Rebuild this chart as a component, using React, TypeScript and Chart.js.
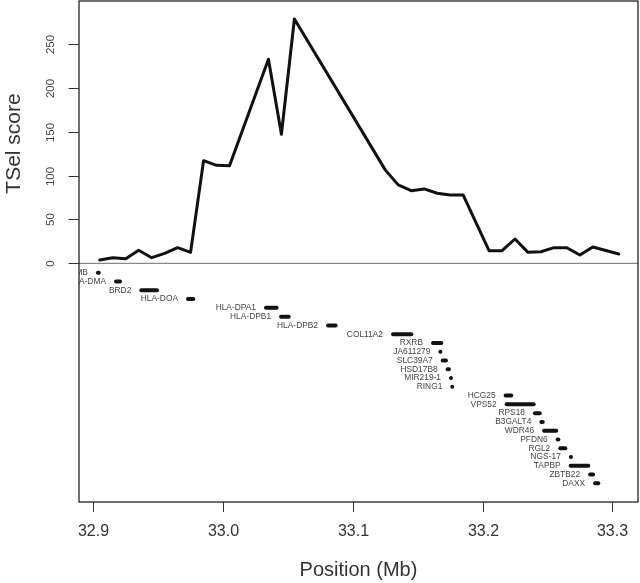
import React, { useEffect, useRef } from "react";
import { Chart, registerables } from "chart.js";

Chart.register(...registerables);

// TSel score profile (position in Mb, score)
const scorePos = [
  32.905, 32.915, 32.925, 32.935, 32.945, 32.955, 32.965, 32.975, 32.985, 32.995,
  33.005, 33.035, 33.045, 33.055, 33.125, 33.135, 33.145, 33.155, 33.165, 33.175,
  33.185, 33.205, 33.215, 33.225, 33.235, 33.245, 33.255, 33.265, 33.275, 33.285,
  33.305,
];
const scoreVal = [
  3.8, 6.4, 5.2, 14.8, 6.4, 11.4, 17.8, 12.5, 117.0, 111.7,
  111.3, 232.6, 147.1, 278.5, 106.5, 89.4, 82.8, 84.8, 79.9, 77.9,
  77.9, 14.4, 14.4, 27.7, 12.5, 13.2, 17.8, 17.8, 9.5, 18.6,
  10.6,
];

// Genes (start / end in Mb)
const geneNames = [
  "HLA-DMB", "HLA-DMA", "BRD2", "HLA-DOA", "HLA-DPA1", "HLA-DPB1", "HLA-DPB2",
  "COL11A2", "RXRB", "JA611279", "SLC39A7", "HSD17B8", "MIR219-1", "RING1",
  "HCG25", "VPS52", "RPS18", "B3GALT4", "WDR46", "PFDN6", "RGL2", "NGS-17",
  "TAPBP", "ZBTB22", "DAXX",
];
const geneStart = [
  32.9036, 32.9175, 32.9370, 32.9730, 33.0331, 33.0447, 33.0809,
  33.1310, 33.1618, 33.1675, 33.1693, 33.1731, 33.1757, 33.1767,
  33.2178, 33.2186, 33.2404, 33.2453, 33.2474, 33.2579, 33.2599, 33.2680,
  33.2679, 33.2829, 33.2867,
];
const geneEnd = [
  32.9042, 32.9206, 32.9491, 32.9771, 33.0413, 33.0506, 33.0868,
  33.1451, 33.1682, 33.1678, 33.1718, 33.1741, 33.1759, 33.1770,
  33.2222, 33.2394, 33.2441, 33.2464, 33.2568, 33.2584, 33.2638, 33.2682,
  33.2815, 33.2852, 33.2892,
];

const xTicks = [32.9, 33.0, 33.1, 33.2, 33.3];
const xTickLabels = ["32.9", "33.0", "33.1", "33.2", "33.3"];
const yTicks = [0, 50, 100, 150, 200, 250];

const X_MIN = 32.889;
const X_MAX = 33.3198;
const Y_MIN = -272.1;
const Y_MAX = 299;

const FONT = "'Liberation Sans', Arial, Helvetica, sans-serif";

function geneRowY(k: number) {
  return -10.8 - 10 * k;
}

export default function App() {
  const ref = useRef<HTMLCanvasElement | null>(null);

  useEffect(() => {
    if (!ref.current) return;

    const decor = {
      id: "decor",
      beforeDatasetsDraw(chart: any) {
        const { ctx, chartArea, scales } = chart;
        const y0 = scales.y.getPixelForValue(0);
        ctx.save();
        ctx.strokeStyle = "#8a8a8a";
        ctx.lineWidth = 1.3;
        ctx.beginPath();
        ctx.moveTo(chartArea.left, y0);
        ctx.lineTo(chartArea.right, y0);
        ctx.stroke();
        ctx.restore();
      },
      afterDatasetsDraw(chart: any) {
        const { ctx, chartArea, scales } = chart;
        // gene labels (clipped to plot region)
        ctx.save();
        ctx.beginPath();
        ctx.rect(chartArea.left, chartArea.top, chartArea.right - chartArea.left, chartArea.bottom - chartArea.top);
        ctx.clip();
        ctx.fillStyle = "#444";
        ctx.font = `8.4px ${FONT}`;
        ctx.textAlign = "right";
        ctx.textBaseline = "middle";
        geneNames.forEach((name, k) => {
          const px = scales.x.getPixelForValue(geneStart[k]);
          const py = scales.y.getPixelForValue(geneRowY(k));
          ctx.fillText(name, px - 10, py);
        });
        ctx.restore();
      },
      afterDraw(chart: any) {
        const { ctx, chartArea, scales } = chart;
        ctx.save();
        // box
        ctx.strokeStyle = "#222";
        ctx.lineWidth = 1.3;
        ctx.strokeRect(chartArea.left, chartArea.top, chartArea.right - chartArea.left, chartArea.bottom - chartArea.top);
        // y ticks
        ctx.lineWidth = 1;
        ctx.strokeStyle = "#333";
        ctx.fillStyle = "#444";
        ctx.font = `11.5px ${FONT}`;
        ctx.textAlign = "center";
        ctx.textBaseline = "middle";
        yTicks.forEach((v) => {
          const py = Math.round(scales.y.getPixelForValue(v)) + 0.5;
          ctx.beginPath();
          ctx.moveTo(chartArea.left - 10.5, py);
          ctx.lineTo(chartArea.left, py);
          ctx.stroke();
          ctx.save();
          ctx.translate(51, py);
          ctx.rotate(-Math.PI / 2);
          ctx.fillText(String(v), 0, 0);
          ctx.restore();
        });
        // x ticks
        ctx.fillStyle = "#333";
        ctx.font = `16px ${FONT}`;
        xTicks.forEach((v, i) => {
          const px = Math.round(scales.x.getPixelForValue(v)) + 0.5;
          ctx.beginPath();
          ctx.moveTo(px, chartArea.bottom);
          ctx.lineTo(px, chartArea.bottom + 10);
          ctx.stroke();
          ctx.fillText(xTickLabels[i], px, 531.5);
        });
        // axis titles
        ctx.font = `20px ${FONT}`;
        ctx.textBaseline = "alphabetic";
        ctx.fillText("Position (Mb)", (chartArea.left + chartArea.right) / 2, 576);
        ctx.save();
        ctx.font = `21px ${FONT}`;
        ctx.translate(19.5, 143.5);
        ctx.rotate(-Math.PI / 2);
        ctx.fillText("TSel score", 0, 0);
        ctx.restore();
        ctx.restore();
      },
    };

    const geneSets = geneNames.map((name, k) => ({
      label: name,
      data: [
        { x: geneStart[k], y: geneRowY(k) },
        { x: geneEnd[k], y: geneRowY(k) },
      ],
      borderColor: "#111",
      borderWidth: 4,
      borderCapStyle: "round" as const,
      pointRadius: 0,
      fill: false,
      tension: 0,
    }));

    const chart = new Chart(ref.current, {
      type: "line",
      data: {
        datasets: [
          {
            label: "TSel score",
            data: scorePos.map((x, i) => ({ x, y: scoreVal[i] })),
            borderColor: "#111",
            borderWidth: 3,
            borderJoinStyle: "round",
            borderCapStyle: "round",
            pointRadius: 0,
            fill: false,
            tension: 0,
          },
          ...geneSets,
        ],
      },
      options: {
        responsive: false,
        animation: false,
        events: [],
        layout: { padding: { top: 1, right: 2, left: 0, bottom: 0 } },
        plugins: {
          legend: { display: false },
          tooltip: { enabled: false },
          title: { display: false },
        },
        scales: {
          x: {
            type: "linear",
            min: X_MIN,
            max: X_MAX,
            grid: { display: false },
            border: { display: false },
            ticks: { display: false },
            afterFit: (s: any) => {
              s.height = 81;
            },
          },
          y: {
            type: "linear",
            min: Y_MIN,
            max: Y_MAX,
            grid: { display: false },
            border: { display: false },
            ticks: { display: false },
            afterFit: (s: any) => {
              s.width = 79;
            },
          },
        },
      },
      plugins: [decor],
    });

    return () => chart.destroy();
  }, []);

  return (
    <div style={{ position: "absolute", left: 0, top: 0, width: 640, height: 583, background: "#fff" }}>
      <canvas ref={ref} width={640} height={583} style={{ display: "block" }} />
    </div>
  );
}
